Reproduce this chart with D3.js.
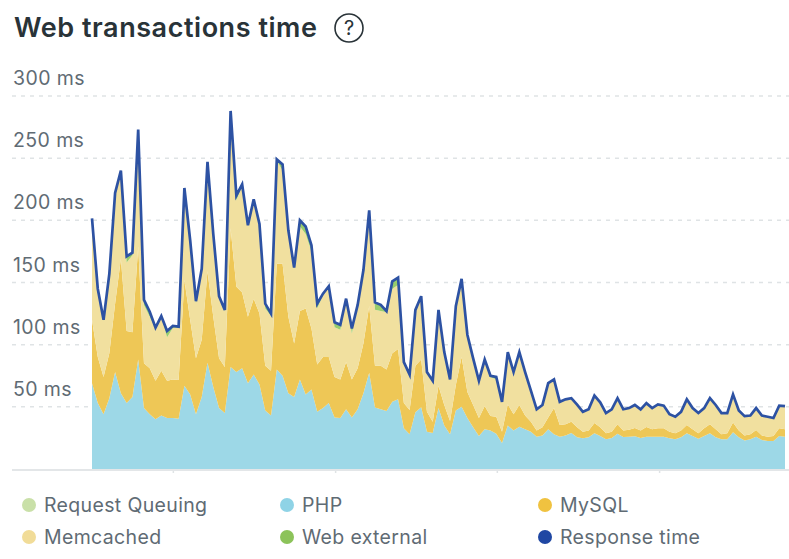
<!DOCTYPE html>
<html>
<head>
<meta charset="utf-8">
<script src="https://cdn.jsdelivr.net/npm/d3@7"></script>
<style>
  html, body { margin: 0; padding: 0; background: #fff; }
  svg { display: block; font-family: Inter, "Noto Sans", sans-serif; }
</style>
</head>
<body>
<svg id="chart" width="789" height="559"></svg>
<script>
// values in ms
var php = [69,53,44,57,78,61,53,58,88,49,44,40,43,41,41,40.5,67,60,44,58,85.5,66,49,45,82,78,81,69,76,68,47,43,80,75,61,58,72,60,64,46,49,53,41.5,41,48,41.5,48,61,77.5,49.5,48,46.6,54,56,32.7,28,45.6,49.6,30,29,49,35,28,47,50,41,33.5,26.5,32,31,28.4,21,35,31,34,32,30,26,27,32,28,26,27,29,25.5,24.7,25.5,28.7,26.5,24,25,28.4,25.7,26,26.3,25,26,26,26,26,24.7,24,25.5,28.7,26.5,24.4,26.5,28.7,25.5,24,24,29.5,25.5,23,24,26,23.3,22.5,22.5,26.5,26];
var mysql = [51,37,30,36,55,108,58,52,91,36,37,31,36,30,31,31,85,60,45,46,73.5,56.5,40,37,111.6,68.6,61,53.5,61,57,36,36,85,90,61.5,43,55,69,49,38,41,37,32.5,31,38,30.5,33,40,53.5,33.5,35,33.4,39,40.5,20.3,19.5,37.4,38.4,16,9,18,16.5,10.6,20.5,40,21,18,14.5,18.7,11.6,13.6,9,17,13,17.5,11,8,5,6.5,9.5,21,9.4,9,9,8,5.3,5.5,8.3,7,4.7,5,7.6,5.3,5.6,6.7,6,7.8,6,6.7,6.7,5.3,4.7,5.5,6.7,5.5,4.3,6.2,7.3,6.5,4,4.7,8,5.5,4,4,5.4,3.7,3.5,4,6.2,6];
var memcached = [81.6,54.5,45,64,88,70.5,55,62,93.5,47,41.5,41.7,43,35,41.5,42.4,74,64,44.5,57,87,66.5,49,45,94.4,69.4,86,73.5,80,71,46,44,83,75,68.5,60,68,60,62,45,50,56,40,40,51,37,51,59,77,45,44,46,52,51.5,33,28.5,45,51,32,33,61,42.5,33.4,63.5,63,46,37.5,30,37.3,31.4,30,24,41,32.5,42,35,25,17,18,27.5,23,18.6,20,19,18.2,16,17,22,20,16.3,18,21,17,17.4,18.5,17,19.2,17,19.3,18.3,14,13.3,15,20.6,17,16.3,16.3,21,19.5,17,16.3,22.5,16,15.5,15,17.6,16,16,14.5,18.3,18.5];
var webExternal = [0,0.5,1,0,1,0.5,5,2,0.5,4,4,1,1,5,1.5,0.5,0,0,1.5,0,1,0,1,1,0,4,1,0,0,1,4,2,1,5,1,1,5,6,5,4,1,1,4,4,0,4,0,0,0,6,5,1,6,6,0,0,0,0,0,0,0,0,0,0,0,0,0,0,0,1,2,0,1,1.5,0.5,0,0,0,0,0,0,0,0,0,0,0,0,0,0,0,0,0,0,0,0,0,0,0,0,0,0,0,0,0,0,0,0,0,0,0,0,0,0,0,0,0,0,0,0,0,0];
var requestQueuing = [0,0,0,0,0,0,0,0,0,0,0,0,0,0,0,0,0,0,0,0,0,0,0,0,0,0,0,0,0,0,0,0,0,0,0,0,0,0,0,0,0,0,0,0,0,0,0,0,0,0,0,0,0,0,0,0,0,0,0,0,0,0,0,0,0,0,0,0,0,0,0,0,0,0,0,0,0,0,0,0,0,0,0,0,0,0,0,0,0,0,0,0,0,0,0,0,0,0,0,0,0,0,0,0,0,0,0,0,0,0,0,0,0,0,0,0,0,0,0,0,0];
var responseTime = [201.6,145,120,157,222,240,171,174,273,136,126.5,113.7,123,111,115,114.5,226,184,135,161,247,189,139,128,288,220,229,196,217,197,133,125,249,245,192,162,200,195,180,133,141,147,118,116,137,113,132,160,208,134,132,127,151,154,86,76,128,139,78,71,128,94,72,131,153,108,89,71,88,75,74,54,94,78,94,78,63,48,51.5,69,72,54,56,57,51.7,46,48,59,53.6,45,48,57,48,49,51.5,48,53,49,52,51,44,42,46,56,49,45,49,57,51.5,45,45,60,47,42.5,43,49,43,42,41,51,50.5];

var yTicks = [50,100,150,200,250,300];
var xTicks = [14,42.1,70.1,98.2];
var legendNames = ["Request Queuing","PHP","MySQL","Memcached","Web external","Response time"];
var legendColors = ["#c9e0a8","#8fd3e6","#f0c240","#f1dc98","#8cc35a","#1f47a3"];

var svg = d3.select("#chart");

// scales
var x = d3.scaleLinear().domain([0, responseTime.length - 1]).range([92, 785]);
var y = d3.scaleLinear().domain([0, 300]).range([469, 96]);

// gridlines and labels
yTicks.forEach(function(t) {
  svg.append("line")
    .attr("x1", 12).attr("x2", 789)
    .attr("y1", y(t)).attr("y2", y(t))
    .attr("stroke", "#dfe3e5")
    .attr("stroke-width", 1.5)
    .attr("stroke-dasharray", "4 5");
  svg.append("text")
    .attr("x", 13).attr("y", y(t) - 11)
    .attr("font-size", 19.5)
    .attr("letter-spacing", 0.4)
    .attr("fill", "#5f6b74")
    .text(t + " ms");
});

// stacked areas
var rows = responseTime.map(function(d, i) {
  return {i: i, requestQueuing: requestQueuing[i], php: php[i], mysql: mysql[i], memcached: memcached[i], webExternal: webExternal[i]};
});
var keys = ["requestQueuing","php","mysql","memcached","webExternal"];
var areaColors = {requestQueuing: "#c9e0a8", php: "#9dd8e7", mysql: "#eec756", memcached: "#f1e09f", webExternal: "#98cc6c"};
var series = d3.stack().keys(keys)(rows);
var area = d3.area()
  .x(function(d) { return x(d.data.i); })
  .y0(function(d) { return y(d[0]); })
  .y1(function(d) { return y(d[1]); });

svg.selectAll(".layer").data(series).enter().append("path")
  .attr("class", "layer")
  .attr("fill", function(d) { return areaColors[d.key]; })
  .attr("d", area);

// response time line
var line = d3.line()
  .x(function(d, i) { return x(i); })
  .y(function(d) { return y(d); });
svg.append("path")
  .datum(responseTime)
  .attr("fill", "none")
  .attr("stroke", "#2d52a3")
  .attr("stroke-width", 2.7)
  .attr("stroke-linejoin", "miter")
  .attr("d", line);

// x axis, ticks only
var xAxis = svg.append("g")
  .attr("transform", "translate(0,470)")
  .call(d3.axisBottom(x).tickValues(xTicks).tickSize(3).tickFormat(""));
xAxis.select(".domain").remove();
xAxis.selectAll("line").attr("stroke", "#dfe3e5").attr("stroke-width", 1.5);
svg.append("line")
  .attr("x1", 12).attr("x2", 789)
  .attr("y1", 470).attr("y2", 470)
  .attr("stroke", "#e3e6e8").attr("stroke-width", 2);

// title
svg.append("text")
  .attr("x", 14).attr("y", 37)
  .attr("font-size", 27)
  .attr("letter-spacing", 0.55)
  .attr("font-weight", 600)
  .attr("fill", "#293338")
  .text("Web transactions time");
svg.append("circle")
  .attr("cx", 349).attr("cy", 28).attr("r", 14)
  .attr("fill", "none").attr("stroke", "#293338").attr("stroke-width", 1.6);
svg.append("text")
  .attr("x", 349).attr("y", 35)
  .attr("text-anchor", "middle")
  .attr("font-size", 20)
  .attr("fill", "#293338")
  .text("?");

// legend
var legendX = [29, 287, 545];
var legendY = [505, 537];
legendNames.forEach(function(name, i) {
  var cx = legendX[i % 3], cy = legendY[Math.floor(i / 3)];
  svg.append("circle")
    .attr("cx", cx).attr("cy", cy).attr("r", 7)
    .attr("fill", legendColors[i]);
  svg.append("text")
    .attr("x", cx + 15).attr("y", cy + 7)
    .attr("font-size", 19.5)
    .attr("letter-spacing", 0.35)
    .attr("fill", "#5f6b74")
    .text(name);
});
</script>
</body>
</html>
